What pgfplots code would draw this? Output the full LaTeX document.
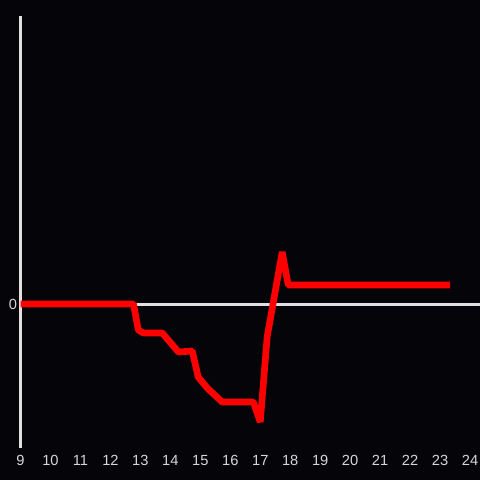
\documentclass[border=0pt]{standalone}
\usepackage{fontspec}
\setmainfont{Liberation Sans}
\usepackage{pgfplots}
\pgfplotsset{compat=1.18}
\definecolor{bg}{RGB}{5,4,8}
\definecolor{axgray}{RGB}{224,224,224}
\definecolor{lblgray}{RGB}{215,215,215}
\begin{document}
\begin{tikzpicture}[x=1pt,y=1pt]
\begin{axis}[
  set layers=standard,
  at={(15.4pt,24pt)}, anchor=south west,
  scale only axis, width=344.6pt, height=324pt,
  xmin=9, xmax=24.3333, ymin=-144, ymax=288,
  clip=false,
  axis lines=left,
  axis line style={-},
  x axis line style={draw=none},
  y axis line style={draw=axgray, line width=2.25pt},
  xtick={9,10,...,24}, ytick={0},
  major tick length=0pt,
  tick style={draw=none},
  /pgf/number format/assume math mode=true,
  ticklabel style={font=\fontsize{11}{13}\selectfont, text=lblgray},
  xticklabel style={yshift=-2pt},
  yticklabel style={xshift=1pt},
]
\addplot[draw=axgray, line width=2.25pt] coordinates {(9,0) (24.3333,0)};
\addplot[draw=red, line width=5pt, line join=bevel] coordinates {
(9,0) (12.77,0) (12.93,-26) (13.1,-29) (13.73,-29) (14.27,-48) (14.73,-47)
(14.93,-73) (15.23,-84) (15.73,-98) (16.77,-98) (17.0,-118) (17.23,-33)
(17.733,52) (17.933,19) (23.333,19)
};
\end{axis}
\begin{pgfonlayer}{axis background}
\fill[bg] (0,0) rectangle (360,360);
\end{pgfonlayer}
\pgfresetboundingbox
\path[use as bounding box] (0,0) rectangle (360,360);
\end{tikzpicture}
\end{document}
